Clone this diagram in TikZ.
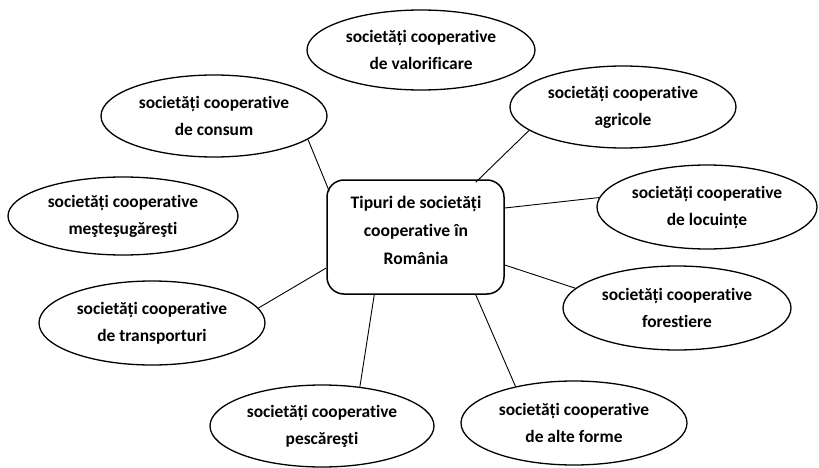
\documentclass[tikz,border=0pt]{standalone}
\usepackage{fontspec}
\setmainfont[RawFeature=-liga]{Carlito}
\usetikzlibrary{shapes.geometric}
\begin{document}
\begin{tikzpicture}[x=1pt,y=1pt,
  lbl/.style={font=\bfseries\fontsize{17.4}{27}\selectfont},
  ell/.style={draw, ellipse, line width=1.3pt, inner sep=0pt, align=center, lbl},
  hub/.style={draw, rectangle, rounded corners=17pt, line width=1.5pt,
    minimum width=177pt, minimum height=114pt, inner sep=0pt},
  hubtext/.style={align=center, inner sep=0pt, font=\bfseries\fontsize{17.6}{28}\selectfont},
  link/.style={line width=0.9pt}]
\useasboundingbox (0,0) rectangle (819,-468);

\node[hub] (box) at (415.5,-237) {};
\node[hubtext] (boxtxt) at (416,-230) {Tipuri de societăți\\cooperative în\\România};

\node[ell, minimum width=228pt, minimum height=80pt] (val) at (421,-50) {societăți cooperative\\de valorificare};
\node[ell, minimum width=226pt, minimum height=82pt] (con) at (214,-116) {societăți cooperative\\de consum};
\node[ell, minimum width=226pt, minimum height=82pt] (agr) at (623,-107) {societăți cooperative\\agricole};
\node[ell, minimum width=230pt, minimum height=78pt] (mes) at (123,-216) {societăți cooperative\\meşteşugăreşti};
\node[ell, minimum width=220pt, minimum height=84pt] (loc) at (707,-207) {societăți cooperative\\de locuințe};
\node[ell, minimum width=228pt, minimum height=84pt] (for) at (677,-308) {societăți cooperative\\forestiere};
\node[ell, minimum width=226pt, minimum height=84pt] (tra) at (152,-323) {societăți cooperative\\de transporturi};
\node[ell, minimum width=224pt, minimum height=82pt] (pes) at (322,-426) {societăți cooperative\\pescăreşti};
\node[ell, minimum width=226pt, minimum height=84pt] (alt) at (574,-423) {societăți cooperative\\de alte forme};

\draw[link] (con.-14.5) -- ([shift={(3,-12)}]box.north west);
\draw[link] (agr.194.2) -- ([shift={(-29,-3)}]box.north east);
\draw[link] (loc.175.8) -- ([yshift=29]box.east);
\draw[link] (for.169.4) -- ([yshift=-28]box.east);
\draw[link] (alt.148.5) -- ([xshift=-29]box.south east);
\draw[link] (pes.46.5) -- ([xshift=48]box.south west);
\draw[link] (tra.8) -- ([yshift=-31]box.west);
\end{tikzpicture}
\end{document}
